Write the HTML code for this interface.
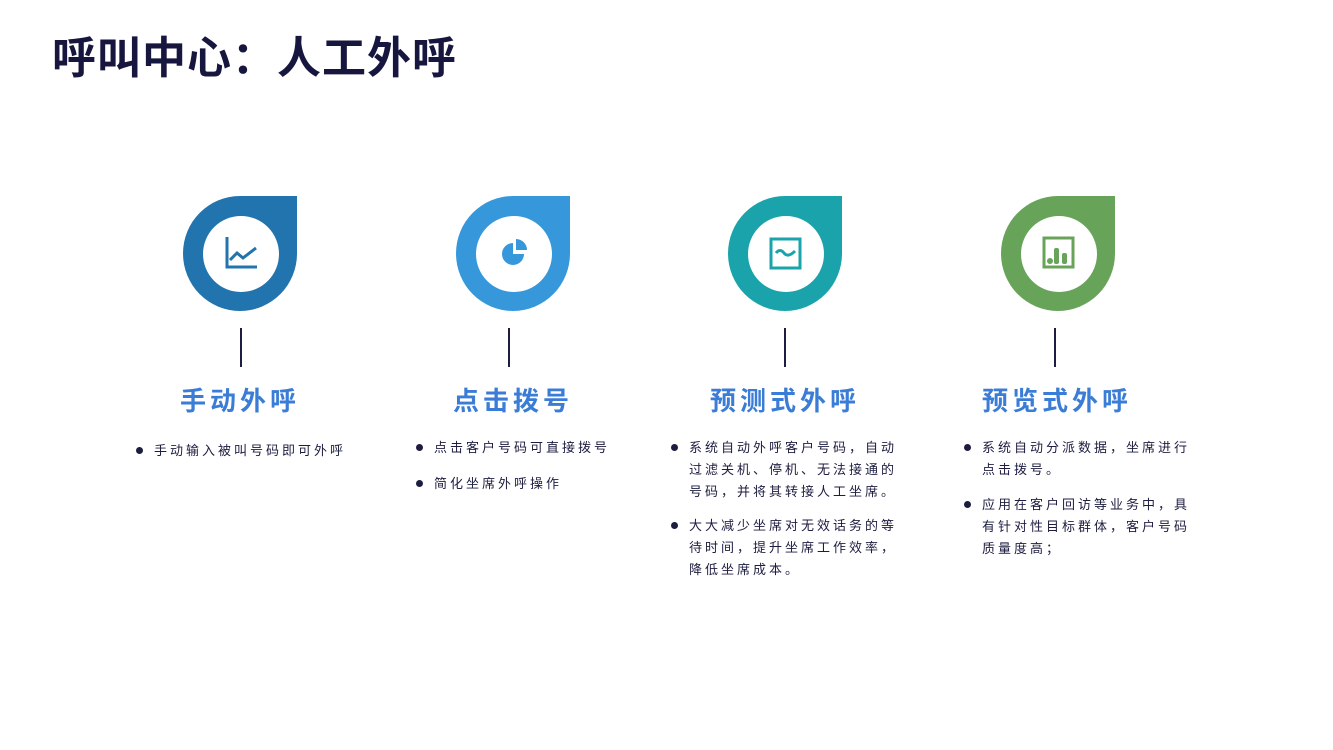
<!DOCTYPE html>
<html><head><meta charset="utf-8"><style>
body{margin:0;width:1333px;height:750px;background:#fff;position:relative;overflow:hidden;font-family:"Liberation Sans","Noto Sans CJK SC",sans-serif;}
.t{position:absolute;left:52px;top:22px;font-size:44px;font-weight:bold;color:#16163f;letter-spacing:1px;white-space:nowrap;}
.drop{position:absolute;top:196px;width:114px;height:115px;border-radius:50% 0 50% 50%;}
.in{position:absolute;left:20px;top:20px;width:76px;height:76px;border-radius:50%;background:#fff;}
.in svg{position:absolute;left:18px;top:18px;}
.ln{position:absolute;top:328px;width:2px;height:39px;background:#1d1d40;}
.h{position:absolute;top:381px;width:300px;text-align:center;font-size:26px;font-weight:bold;color:#3b7dd6;letter-spacing:4px;}
.b{position:absolute;font-size:13px;color:#1d1d40;letter-spacing:3px;line-height:22px;white-space:nowrap;}
.b div{position:relative;padding-left:14px;}
.b div:before{content:"";position:absolute;left:-4px;top:7px;width:7px;height:7px;border-radius:50%;background:#1d1d40;}
</style></head><body>
<div class="t">呼叫中心：人工外呼</div>

<div class="drop" style="left:183px;background:#2174ae"><div class="in"><svg width="40" height="40" viewBox="0 0 40 40"><path d="M6 3V33H36" fill="none" stroke="#2174ae" stroke-width="3"/><path d="M9 26L16 19L22 24L35 14" fill="none" stroke="#2174ae" stroke-width="3"/></svg></div></div>
<div class="drop" style="left:456px;background:#3698db"><div class="in"><svg width="40" height="40" viewBox="0 0 40 40"><path d="M19 9A11 11 0 1 0 30 20H19Z" fill="#3698db"/><path d="M22 5A11 11 0 0 1 33 16H22Z" fill="#3698db"/></svg></div></div>
<div class="drop" style="left:728px;background:#1aa3aa"><div class="in"><svg width="40" height="40" viewBox="0 0 40 40"><rect x="5" y="5" width="29" height="29" fill="none" stroke="#1aa3aa" stroke-width="3"/><path d="M10 19Q14 14 18 19T29 17" fill="none" stroke="#1aa3aa" stroke-width="3"/></svg></div></div>
<div class="drop" style="left:1001px;background:#68a35a"><div class="in"><svg width="40" height="40" viewBox="0 0 40 40"><rect x="5" y="4" width="29" height="29" fill="none" stroke="#68a35a" stroke-width="3"/><circle cx="11" cy="27" r="3" fill="#68a35a"/><rect x="15" y="14" width="5" height="16" rx="2" fill="#68a35a"/><rect x="23" y="19" width="5" height="11" rx="2" fill="#68a35a"/></svg></div></div>

<div class="ln" style="left:240px"></div>
<div class="ln" style="left:508px"></div>
<div class="ln" style="left:784px"></div>
<div class="ln" style="left:1054px"></div>

<div class="h" style="left:90px">手动外呼</div>
<div class="h" style="left:363px">点击拨号</div>
<div class="h" style="left:635px">预测式外呼</div>
<div class="h" style="left:907px">预览式外呼</div>

<div class="b" style="left:140px;top:440px"><div>手动输入被叫号码即可外呼</div></div>
<div class="b" style="left:420px;top:437px"><div>点击客户号码可直接拨号</div><div style="margin-top:14px">简化坐席外呼操作</div></div>
<div class="b" style="left:675px;top:437px"><div>系统自动外呼客户号码，自动<br>过滤关机、停机、无法接通的<br>号码，并将其转接人工坐席。</div><div style="margin-top:12px">大大减少坐席对无效话务的等<br>待时间，提升坐席工作效率，<br>降低坐席成本。</div></div>
<div class="b" style="left:968px;top:437px"><div>系统自动分派数据，坐席进行<br>点击拨号。</div><div style="margin-top:13px">应用在客户回访等业务中，具<br>有针对性目标群体，客户号码<br>质量度高；</div></div>
</body></html>
